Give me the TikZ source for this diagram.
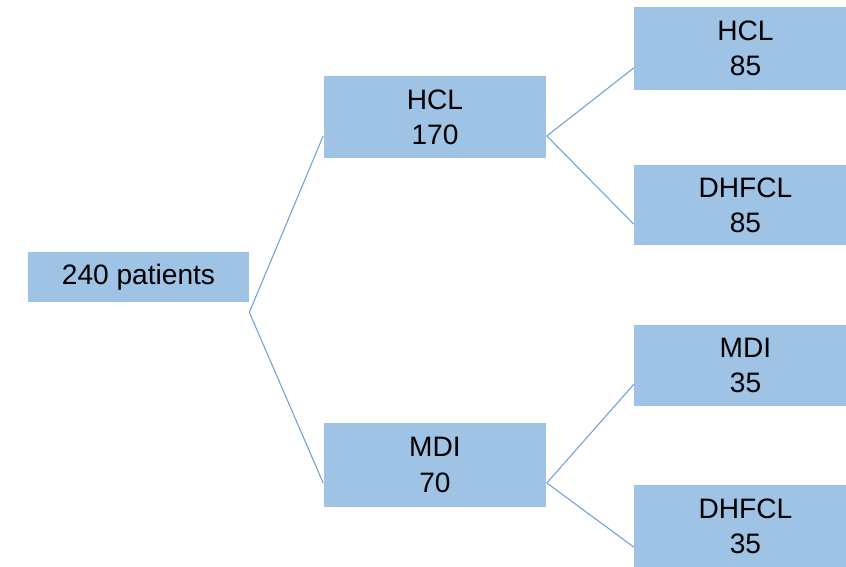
\documentclass[tikz,border=0pt]{standalone}
\usepackage{fontspec}
\setmainfont{Liberation Sans}
\definecolor{boxblue}{RGB}{158,195,229}
\definecolor{linkblue}{RGB}{110,160,215}
\begin{document}
\begin{tikzpicture}[x=0.02cm, y=-0.02cm, font=\fontsize{16}{20}\selectfont, line join=round, line cap=round,
	box/.style={fill=boxblue, inner sep=0pt, align=center, minimum width=4.46cm},
	link/.style={draw=linkblue, line width=0.6pt}]
	\useasboundingbox (0,0) rectangle (846,567);
	\node[box, minimum width=4.42cm, minimum height=1cm] (root) at (138.5,277) {240 patients};
	\node[box, minimum height=1.64cm] (hcl) at (435,117) {HCL\\170};
	\node[box, minimum height=1.68cm] (mdi) at (435,465) {MDI\\70};
	\node[box, minimum height=1.66cm] (hclA) at (745.5,48.5) {HCL\\85};
	\node[box, minimum height=1.6cm] (dhfclA) at (745.5,205) {DHFCL\\85};
	\node[box, minimum height=1.62cm] (mdiB) at (745.5,365.5) {MDI\\35};
	\node[box, minimum height=1.64cm] (dhfclB) at (745.5,526) {DHFCL\\35};
	\coordinate (fork) at ([yshift=-0.2cm]root.south east);
	\draw[link] ([yshift=-0.38cm]hcl.west) -- (fork) -- ([yshift=-0.36cm]mdi.west);
	\draw[link] ([yshift=-0.39cm]hclA.west) -- ([yshift=-0.38cm]hcl.east) -- ([yshift=-0.38cm]dhfclA.west);
	\draw[link] ([yshift=-0.38cm]mdiB.west) -- ([yshift=-0.36cm]mdi.east) -- ([yshift=-0.42cm]dhfclB.west);
\end{tikzpicture}
\end{document}
